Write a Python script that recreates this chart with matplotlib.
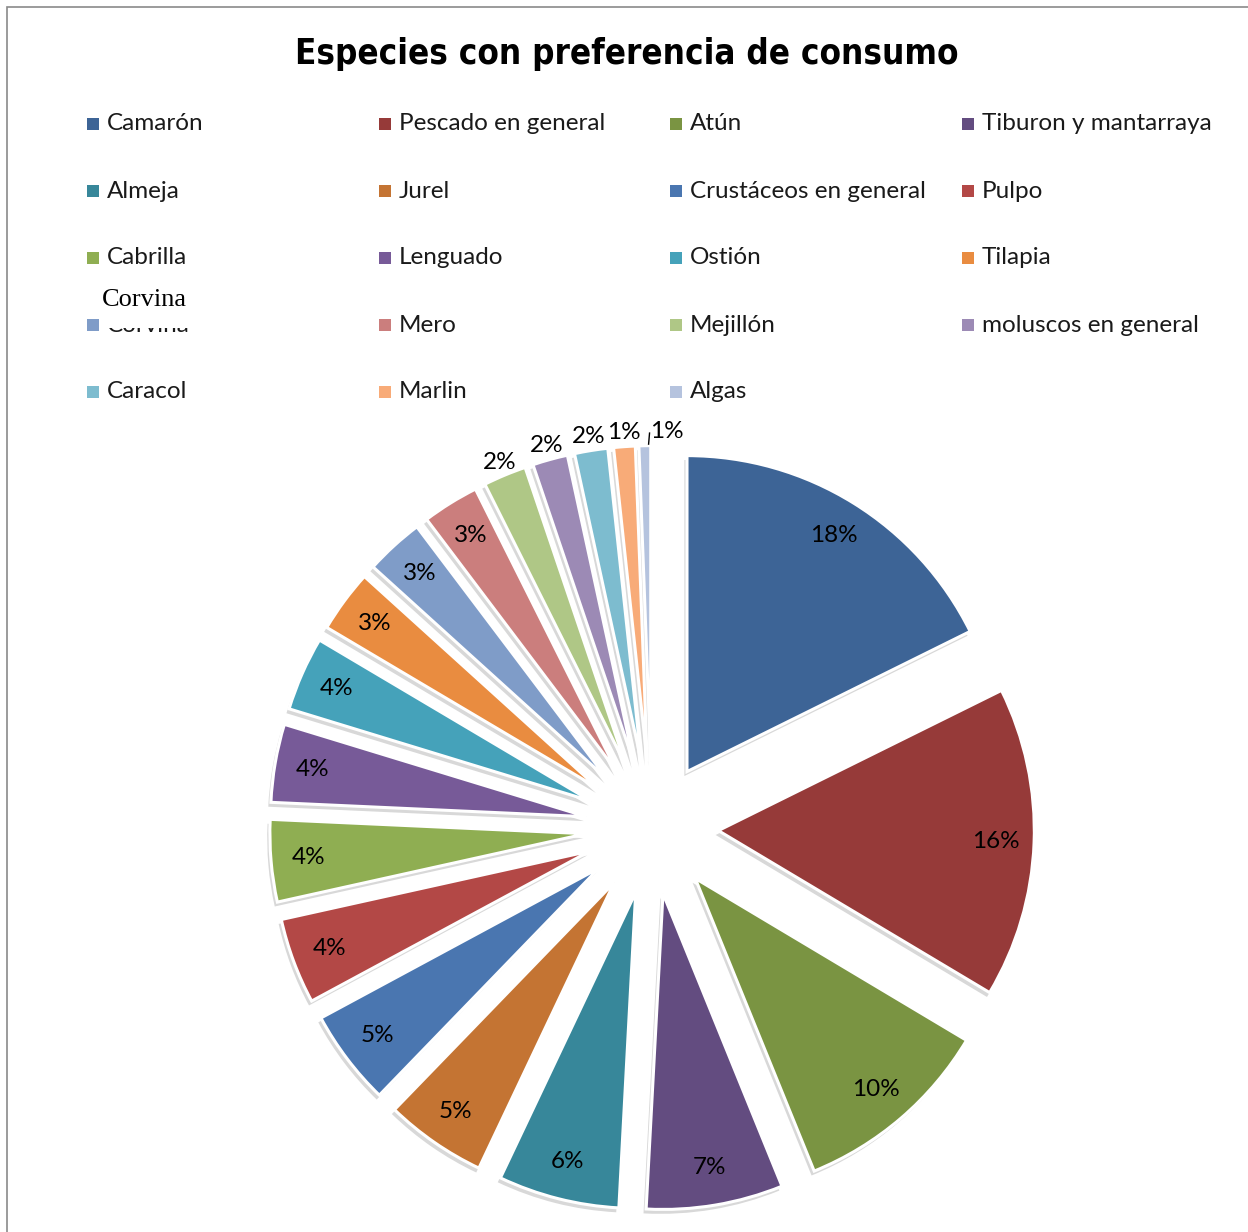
import matplotlib
matplotlib.use("Agg")
import matplotlib.pyplot as plt
from matplotlib.patches import Rectangle
from matplotlib.transforms import Bbox
import numpy as np

labels = ['Camarón', 'Pescado en general', 'Atún', 'Tiburon y mantarraya',
          'Almeja', 'Jurel', 'Crustáceos en general', 'Pulpo',
          'Cabrilla', 'Lenguado', 'Ostión', 'Tilapia',
          'Corvina', 'Mero', 'Mejillón', 'moluscos en general',
          'Caracol', 'Marlin', 'Algas']
values = [17.7, 15.9, 10.3, 7.0, 6.2, 5.2, 4.9, 4.4, 4.2, 4.0, 3.8, 3.2,
          3.0, 2.9, 2.2, 1.8, 1.7, 1.1, 0.6]
colors = ['#3D6496', '#963A39', '#7A9442', '#634C80', '#37879A', '#C47433',
          '#4A76B0', '#B34846', '#8FAE52', '#775A98', '#45A2BA', '#E98C40',
          '#7F9CC8', '#CB7E7D', '#AFC786', '#9C8AB5', '#7DBCCF', '#F8AB78',
          '#B5C3DE']
n_outside = 5  # smallest slices get their label outside

W, H = 1248, 1232
fig = plt.figure(figsize=(W / 100, H / 100), dpi=100)

# pie axes: 1 data unit = R px, pie centre at (cx, cy) px from top-left
R = 316.0
cx, cy = 652.0, 828.0
ax = fig.add_axes([0, 0, 1, 1])

wedges, texts, autotexts = ax.pie(
    values, explode=[0.21] * len(values), colors=colors, startangle=90,
    counterclock=False, autopct=lambda p: f'{p:.0f}%', pctdistance=0.88,
    wedgeprops=dict(edgecolor='white', linewidth=2.2),
    shadow=dict(ox=-0.006, oy=-0.01, facecolor='0.72', edgecolor='none', alpha=0.55),
    textprops=dict(fontsize=17.5, family='Lato', color='black'))

ax.set_xlim(-cx / R, (W - cx) / R)
ax.set_ylim(-(H - cy) / R, cy / R)
ax.set_aspect('auto')
ax.axis('off')

# move the small-slice labels outside the pie
for i in range(len(values) - n_outside, len(values)):
    w = wedges[i]
    mid = np.deg2rad((w.theta1 + w.theta2) / 2)
    x0, y0 = w.center
    x = x0 + 1.045 * np.cos(mid)
    y = y0 + 1.045 * np.sin(mid)
    if i == len(values) - 1:
        x += 0.07
        lx = x0 + np.cos(mid) + 0.012
        ax.plot([lx, lx + 0.003], [y0 + 1.005 * np.sin(mid), y0 + 1.04 * np.sin(mid)],
                color='black', lw=1)
    autotexts[i].set_position((x, y))

# title
fig.text(627 / W, 1 - 54 / H, 'Especies con preferencia de consumo',
         ha='center', va='center', fontsize=25, fontweight='bold',
         family=['Liberation Sans Narrow', 'DejaVu Sans'], fontstretch='condensed')

# legend, row-wise, 4 columns
col_x = [87, 379, 670, 962]
row_y = [124, 191, 258, 325, 392]
for k, (lab, col) in enumerate(zip(labels, colors)):
    r, c = divmod(k, 4)
    x, y = col_x[c], row_y[r]
    fig.add_artist(Rectangle((x / W, 1 - (y + 6) / H), 12 / W, 12 / H,
                             transform=fig.transFigure, facecolor=col,
                             edgecolor='none'))
    t = fig.text((x + 20) / W, 1 - y / H, lab, ha='left', va='center',
                 fontsize=17.5, family='Lato', color='#1a1a1a')
    if lab == 'Corvina':
        # label is hidden behind an overlaid text box; only its foot shows
        t.set_clip_box(Bbox.from_extents(0, H - 336, W, H - 328))
        t.set_clip_on(True)
        fig.text(102 / W, 1 - 300 / H, 'Corvina', ha='left', va='center',
                 fontsize=19, family='Liberation Serif', color='black')

# chart border (left and top edges visible)
fig.add_artist(Rectangle((7 / W, -0.05), 2.0, 1.05 - 7 / H,
                         transform=fig.transFigure, facecolor='none',
                         edgecolor='#8a8a8a', lw=1.2))

fig.savefig('out.png', dpi=100)
